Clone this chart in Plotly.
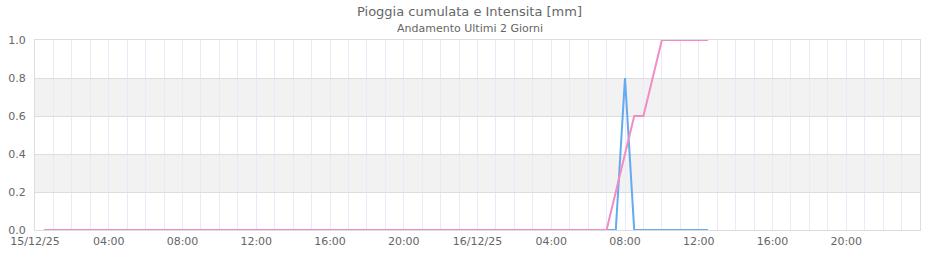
import pandas as pd
import plotly.graph_objects as go

# Timestamps: every 30 minutes from 15/12/25 00:30 to 16/12/25 12:30
times = pd.date_range("2025-12-15 00:30", "2025-12-16 12:30", freq="30min")

# Intensita [mm] (blue)
intensita = [
    0, 0, 0, 0, 0, 0, 0, 0, 0, 0, 0, 0,
    0, 0, 0, 0, 0, 0, 0, 0, 0, 0, 0, 0,
    0, 0, 0, 0, 0, 0, 0, 0, 0, 0, 0, 0,
    0, 0, 0, 0, 0, 0, 0, 0, 0, 0, 0, 0,
    0, 0, 0, 0, 0, 0, 0, 0, 0, 0, 0, 0,
    0, 0, 0, 0.8, 0, 0, 0, 0, 0, 0, 0, 0,
    0,
]

# Pioggia cumulata [mm] (pink)
cumulata = [
    0, 0, 0, 0, 0, 0, 0, 0, 0, 0, 0, 0,
    0, 0, 0, 0, 0, 0, 0, 0, 0, 0, 0, 0,
    0, 0, 0, 0, 0, 0, 0, 0, 0, 0, 0, 0,
    0, 0, 0, 0, 0, 0, 0, 0, 0, 0, 0, 0,
    0, 0, 0, 0, 0, 0, 0, 0, 0, 0, 0, 0,
    0, 0, 0.2, 0.4, 0.6, 0.6, 0.8, 1.0, 1.0, 1.0, 1.0, 1.0,
    1.0,
]

x_tick_vals = pd.date_range("2025-12-15 00:00", "2025-12-16 20:00", freq="4h")
x_tick_text = ["15/12/25", "04:00", "08:00", "12:00", "16:00", "20:00",
               "16/12/25", "04:00", "08:00", "12:00", "16:00", "20:00"]
y_tick_vals = [0.0, 0.2, 0.4, 0.6, 0.8, 1.0]
y_tick_text = ["0.0", "0.2", "0.4", "0.6", "0.8", "1.0"]
bands = [(0.2, 0.4), (0.6, 0.8)]

title_text = "Pioggia cumulata e Intensita [mm]"
subtitle_text = "Andamento Ultimi 2 Giorni"

fig = go.Figure()
fig.add_trace(go.Scatter(x=times, y=intensita, mode="lines", name="Intensita",
                         line=dict(color="#64aaf0", width=2), hoverinfo="x+y"))
fig.add_trace(go.Scatter(x=times, y=cumulata, mode="lines", name="Pioggia cumulata",
                         line=dict(color="#f28cc4", width=2), hoverinfo="x+y"))

for y0, y1 in bands:
    fig.add_shape(type="rect", xref="paper", yref="y", x0=0, x1=1, y0=y0, y1=y1,
                  fillcolor="#f2f2f2", line=dict(width=0), layer="below")

fig.add_annotation(text=title_text, xref="paper", yref="paper", x=0.4915, y=1,
                   xanchor="center", yanchor="middle", yshift=29, showarrow=False,
                   font=dict(family="DejaVu Sans", size=13, color="#666666"))
fig.add_annotation(text=subtitle_text, xref="paper", yref="paper", x=0.4915, y=1,
                   xanchor="center", yanchor="middle", yshift=12, showarrow=False,
                   font=dict(family="DejaVu Sans", size=11, color="#666666"))

fig.update_layout(
    width=940, height=260,
    margin=dict(l=35, r=20, t=40, b=30, autoexpand=False),
    paper_bgcolor="white", plot_bgcolor="white",
    showlegend=False,
    font=dict(family="DejaVu Sans", size=11, color="#666666"),
    xaxis=dict(
        type="date", automargin=False,
        range=["2025-12-15 00:00", "2025-12-17 00:00"],
        tickmode="array", tickvals=list(x_tick_vals), ticktext=x_tick_text,
        showgrid=True, gridcolor="#ebe8fa", gridwidth=1,
        minor=dict(dtick=3600000, showgrid=True, gridcolor="#ebe8fa", gridwidth=1),
        showline=True, linecolor="#dddddd", linewidth=1, mirror=True,
        ticks="outside", ticklen=1, tickcolor="rgba(0,0,0,0)", zeroline=False,
        tickfont=dict(size=11, color="#666666"),
    ),
    yaxis=dict(
        range=[0, 1.0], automargin=False,
        tickmode="array", tickvals=y_tick_vals, ticktext=y_tick_text,
        showgrid=True, gridcolor="#dddddd", gridwidth=1,
        showline=True, linecolor="#dddddd", linewidth=1, mirror=True,
        ticks="outside", ticklen=6, tickcolor="rgba(0,0,0,0)", zeroline=False,
        tickfont=dict(size=11, color="#666666"),
    ),
)

fig.write_html("out.html")
